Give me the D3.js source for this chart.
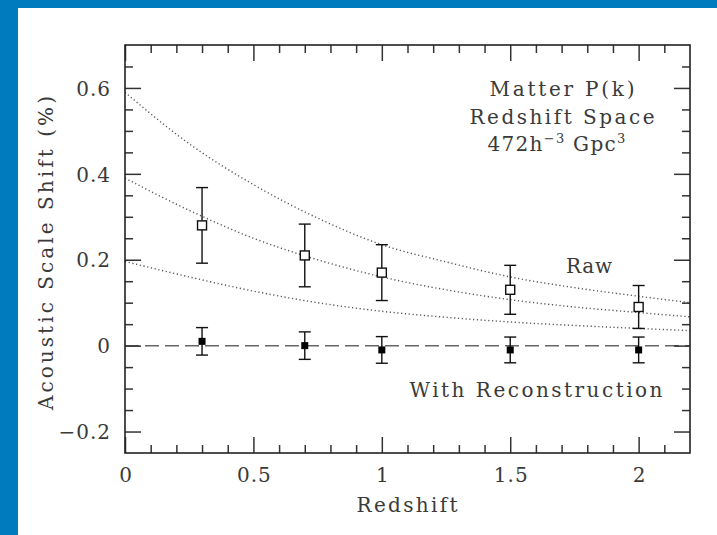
<!DOCTYPE html>
<html><head><meta charset="utf-8">
<script src="https://cdn.jsdelivr.net/npm/d3@7"></script>
<style>
html,body{margin:0;padding:0;background:#fff;}
svg{display:block;}
text{font-family:"DejaVu Serif","Liberation Serif",serif;fill:#3a3a3a;}
.tick text{font-size:20px;letter-spacing:1px;}
.lbl{font-size:20px;}
</style>
</head><body><svg id="c" width="717" height="535"></svg>
<script>
// ---- data ----
const redshift = [0.3, 0.7, 1.0, 1.5, 2.0];
const rawShift = [0.28, 0.21, 0.17, 0.13, 0.09];
const rawError = [0.088, 0.073, 0.065, 0.057, 0.05];
const recShift = [0.01, 0.0, -0.01, -0.01, -0.01];
const recError = [0.032, 0.032, 0.031, 0.03, 0.03];
const curveZ    = [0, 0.25, 0.5, 0.75, 1.0, 1.25, 1.5, 1.75, 2.0, 2.2];
const curveHigh = [0.59, 0.47, 0.375, 0.297, 0.235, 0.195, 0.16, 0.135, 0.115, 0.10];
const curveMid  = [0.39, 0.315, 0.25, 0.20, 0.16, 0.13, 0.107, 0.09, 0.077, 0.067];
const curveLow  = [0.196, 0.16, 0.127, 0.10, 0.08, 0.066, 0.055, 0.047, 0.04, 0.035];
const xTickValues = [0, 0.5, 1, 1.5, 2];
const xTickLabels = ["0", "0.5", "1", "1.5", "2"];
const yTickValues = [-0.2, 0, 0.2, 0.4, 0.6];
const yTickLabels = ["\u22120.2", "0", "0.2", "0.4", "0.6"];
const xLabel = "Redshift";
const yLabel = "Acoustic Scale Shift (%)";
const noteLines = ["Matter P(k)", "Redshift Space"];
const rawLabel = "Raw";
const recLabel = "With Reconstruction";

// ---- layout ----
const svg = d3.select("#c");
svg.append("rect").attr("width", 717).attr("height", 535).attr("fill", "#fff");
svg.append("rect").attr("x", 0).attr("y", 0).attr("width", 18).attr("height", 535).attr("fill", "#007bbd");
svg.append("rect").attr("x", 0).attr("y", 0).attr("width", 717).attr("height", 8).attr("fill", "#007bbd");

const x = d3.scaleLinear().domain([0, 2.2]).range([125, 690]);
const y = d3.scaleLinear().domain([-0.25, 0.7]).range([453, 45]);

const xMinor = d3.range(1, 22).map(i => i / 10).filter(v => Math.abs(v * 2 - Math.round(v * 2)) > 1e-6);
const yMinor = d3.range(-4, 14).map(i => i * 0.05).filter(v => Math.abs(v / 0.2 - Math.round(v / 0.2)) > 1e-6);

// curves
const line = d3.line().x((d, i) => x(curveZ[i])).y(d => y(d)).curve(d3.curveMonotoneX);
[curveHigh, curveMid, curveLow].forEach(c => {
  svg.append("path").attr("d", line(c)).attr("fill", "none")
    .attr("stroke", "#555").attr("stroke-width", 1.4).attr("stroke-dasharray", "1.2,2.6");
});

// zero line
svg.append("path").attr("d", d3.line().x(d => x(d)).y(() => y(0))(x.domain()))
  .attr("fill", "none").attr("stroke", "#666").attr("stroke-width", 1.5).attr("stroke-dasharray", "14,6");

// error bars + markers
function drawSeries(vals, errs, filled) {
  const g = svg.append("g").attr("stroke", "#111").attr("stroke-width", 1.4);
  redshift.forEach((z, i) => {
    const cx = x(z), lo = y(vals[i] - errs[i]), hi = y(vals[i] + errs[i]);
    g.append("line").attr("x1", cx).attr("x2", cx).attr("y1", lo).attr("y2", hi);
    g.append("line").attr("x1", cx - 6).attr("x2", cx + 6).attr("y1", lo).attr("y2", lo);
    g.append("line").attr("x1", cx - 6).attr("x2", cx + 6).attr("y1", hi).attr("y2", hi);
  });
  const s = filled ? 7 : 9;
  g.selectAll(null).data(vals).enter().append("rect")
    .attr("x", (d, i) => x(redshift[i]) - s / 2).attr("y", d => y(d) - s / 2)
    .attr("width", s).attr("height", s)
    .attr("fill", filled ? "#000" : "#fff").attr("stroke", filled ? "none" : "#111");
}
drawSeries(rawShift, rawError, false);
drawSeries(recShift, recError, true);

// axes (ticks inward on all sides)
function ax(gen, scale, vals, size, tr, labels, pad) {
  const a = gen(scale).tickValues(vals).tickSizeInner(-size).tickSizeOuter(0).tickPadding(pad || 3)
    .tickFormat(labels ? (d, i) => labels[i] : () => "");
  const g = svg.append("g").attr("transform", tr).attr("color", "#333").call(a);
  g.select(".domain").remove();
  g.selectAll("line").attr("stroke-width", 1.5);
  return g;
}
const gb = ax(d3.axisBottom, x, xTickValues, 16, "translate(0,453)", xTickLabels, 15);
gb.selectAll("text").attr("dx", 0.5);
ax(d3.axisBottom, x, xMinor, 8, "translate(0,453)");
ax(d3.axisTop, x, xTickValues, 16, "translate(0,45)");
ax(d3.axisTop, x, xMinor, 8, "translate(0,45)");
const gl = ax(d3.axisLeft, y, yTickValues, 16, "translate(125,0)", yTickLabels, 15);
gl.selectAll("text").attr("dx", 1).attr("dy", "0.36em");
ax(d3.axisLeft, y, yMinor, 8, "translate(125,0)");
ax(d3.axisRight, y, yTickValues, 16, "translate(690,0)");
ax(d3.axisRight, y, yMinor, 8, "translate(690,0)");

// frame
svg.append("rect").attr("x", x(0)).attr("y", y(0.7)).attr("width", x(2.2) - x(0)).attr("height", y(-0.25) - y(0.7))
  .attr("fill", "none").attr("stroke", "#222").attr("stroke-width", 1.6);

// axis titles
svg.append("text").attr("class", "lbl").attr("x", 407).attr("y", 512).attr("text-anchor", "middle")
  .attr("textLength", 101).attr("lengthAdjust", "spacing").text(xLabel);
svg.append("text").attr("class", "lbl").attr("transform", "translate(53,253) rotate(-90)").attr("text-anchor", "middle")
  .attr("textLength", 314).attr("lengthAdjust", "spacing").text(yLabel);

// annotations
svg.append("text").attr("class", "lbl").attr("x", 562).attr("y", 96).attr("text-anchor", "middle")
  .attr("textLength", 145).attr("lengthAdjust", "spacing").text(noteLines[0]);
svg.append("text").attr("class", "lbl").attr("x", 562).attr("y", 124).attr("text-anchor", "middle")
  .attr("textLength", 185).attr("lengthAdjust", "spacing").text(noteLines[1]);
const t3 = svg.append("text").attr("class", "lbl").attr("x", 557).attr("y", 151).attr("text-anchor", "middle")
  .style("letter-spacing", "1.3px").style("white-space", "pre");
t3.append("tspan").text("472h");
t3.append("tspan").attr("font-size", 13).attr("dy", -8).text("\u22123");
t3.append("tspan").attr("dy", 8).text(" Gpc");
t3.append("tspan").attr("font-size", 13).attr("dy", -8).text("3");

svg.append("text").attr("class", "lbl").attr("x", 589).attr("y", 273).attr("text-anchor", "middle")
  .attr("textLength", 46).attr("lengthAdjust", "spacing").text(rawLabel);
svg.append("text").attr("class", "lbl").attr("x", 536).attr("y", 397).attr("text-anchor", "middle")
  .attr("textLength", 253).attr("lengthAdjust", "spacing").text(recLabel);
</script>
</body></html>
